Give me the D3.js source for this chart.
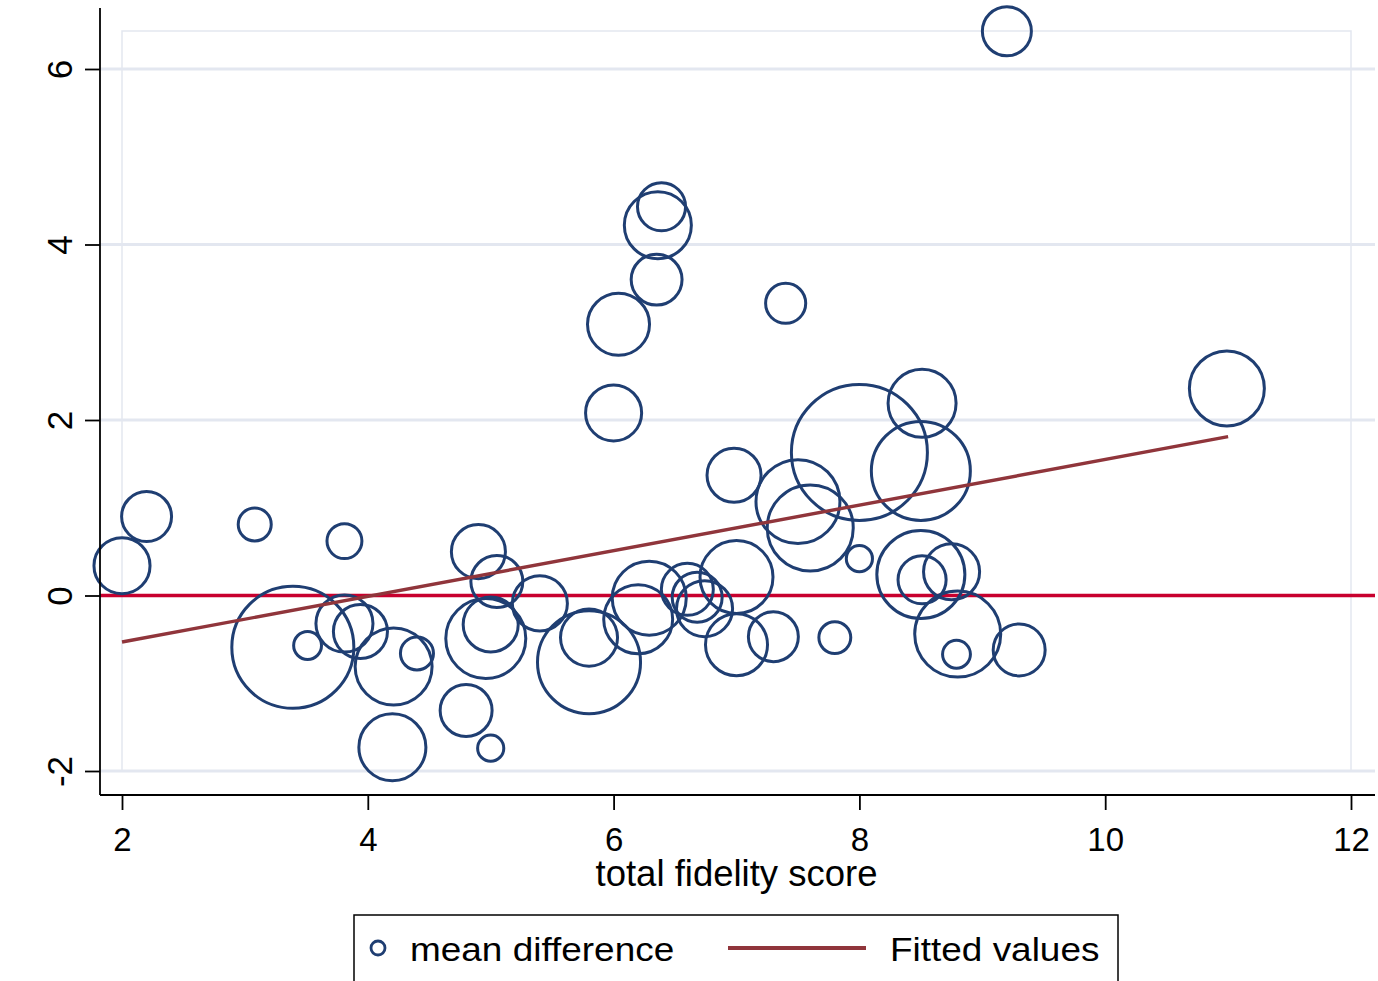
<!DOCTYPE html>
<html>
<head>
<meta charset="utf-8">
<script src="https://cdn.jsdelivr.net/npm/d3@7"></script>
<style>
  html, body { margin: 0; padding: 0; background: #fff; }
  svg { display: block; font-family: "Liberation Sans", Arial, sans-serif; }
</style>
</head>
<body>
<div id="chart"></div>
<script>
// bubble data: fidelity score, mean difference, weight
const fidelity = [2.00, 2.20, 3.08, 3.81, 3.39, 3.51, 3.81, 3.94, 4.21, 4.40,
                  4.20, 4.90, 5.05, 4.96, 5.00, 5.40, 4.80, 5.00, 5.80, 5.80,
                  6.20, 6.29, 6.60, 6.68, 6.74, 7.00, 7.00, 7.30, 7.80, 8.00,
                  7.60, 7.50, 8.00, 8.51, 8.50, 8.50, 8.51, 8.75, 8.80, 8.79,
                  9.30, 10.99, 9.20, 6.39, 6.36, 6.35, 6.04, 6.00, 7.40, 6.98]
const meanDiff = [0.34, 0.90, 0.81, 0.62, -0.59, -0.57, -0.32, -0.41, -0.81, -0.66,
                  -1.73, 0.50, 0.16, -0.49, -0.33, -0.09, -1.31, -1.74, -0.76, -0.48,
                  -0.27, -0.03, 0.07, -0.02, -0.15, 0.21, -0.56, -0.47, -0.48, 0.42,
                  0.77, 1.07, 1.63, 2.19, 1.42, 0.24, 0.18, 0.27, -0.44, -0.67,
                  -0.62, 2.36, 6.43, 4.43, 4.22, 3.60, 3.09, 2.08, 3.33, 1.37]
const weight = [17, 13.5, 5.9, 6.6, 80.5, 4.2, 17.6, 15.8, 32, 5.9,
                24.3, 15.8, 14.6, 34.6, 16.4, 16.4, 14.6, 3.7, 57.4, 17.6,
                25.7, 29.6, 14.6, 13.5, 17, 28.8, 20.8, 13.5, 5.5, 3.7,
                40, 38.1, 100, 25, 53, 41.9, 12.5, 17, 40, 4.2,
                14.6, 30.4, 13, 12.5, 24.3, 14, 20.8, 17, 8.7, 15.8]

// fitted values line endpoints
const fitX = [2, 11]
const fitY = [-0.53, 1.81]

const xTicks = [2, 4, 6, 8, 10, 12]
const yTicks = [-2, 0, 2, 4, 6]

const width = 1378, height = 981
const navy = "#1f3e72", maroon = "#90353b", zeroRed = "#c8002e", grid = "#e3e7f0"

const svg = d3.select("#chart").append("svg")
    .attr("width", width)
    .attr("height", height)

const x = d3.scaleLinear().domain([2, 12]).range([122, 1351])
const y = d3.scaleLinear().domain([-2, 6]).range([771, 69])
const r = d3.scaleSqrt().domain([0, 100]).range([0, 68])

const axisX = 100, axisY = 795, plotRight = 1375

// gridlines
svg.append("g").selectAll("line").data(yTicks).join("line")
    .attr("x1", axisX).attr("x2", plotRight)
    .attr("y1", d => y(d)).attr("y2", d => y(d))
    .attr("stroke", grid).attr("stroke-width", 3)

// inner plot frame
svg.append("rect")
    .attr("x", x(2)).attr("y", 31)
    .attr("width", x(12) - x(2)).attr("height", y(-2) - 31)
    .attr("fill", "none").attr("stroke", grid).attr("stroke-width", 1.5)

// zero reference line
svg.append("line")
    .attr("x1", axisX).attr("x2", plotRight)
    .attr("y1", y(0)).attr("y2", y(0))
    .attr("stroke", zeroRed).attr("stroke-width", 3.4)

// bubbles
const points = fidelity.map((f, i) => ({ f, d: meanDiff[i], w: weight[i] }))
svg.append("g").selectAll("circle").data(points).join("circle")
    .attr("cx", p => x(p.f))
    .attr("cy", p => y(p.d))
    .attr("r", p => r(p.w))
    .attr("fill", "none")
    .attr("stroke", navy)
    .attr("stroke-width", 3)

// fitted line
svg.append("line")
    .attr("x1", x(fitX[0])).attr("y1", y(fitY[0]))
    .attr("x2", x(fitX[1])).attr("y2", y(fitY[1]))
    .attr("stroke", maroon).attr("stroke-width", 3.4)

// axes
const yAxis = svg.append("g")
    .attr("transform", `translate(${axisX},0)`)
    .call(d3.axisLeft(y).tickValues(yTicks).tickSize(15).tickFormat(d3.format("d")))
yAxis.select(".domain").remove()
yAxis.selectAll("line").attr("stroke", "#000").attr("stroke-width", 1.8)
yAxis.selectAll("text")
    .attr("x", null).attr("dy", null)
    .attr("transform", "translate(-28,0) rotate(-90)")
    .attr("text-anchor", "middle")
    .attr("font-family", "Liberation Sans, Arial, sans-serif")
    .attr("font-size", 35)
    .attr("fill", "#000")
    .text(d => d < 0 ? "-" + Math.abs(d) : d)

const xAxis = svg.append("g")
    .attr("transform", `translate(0,${axisY})`)
    .call(d3.axisBottom(x).tickValues(xTicks).tickSize(15))
xAxis.select(".domain").remove()
xAxis.selectAll("line").attr("stroke", "#000").attr("stroke-width", 1.8)
xAxis.selectAll("text")
    .attr("y", 56).attr("dy", null)
    .attr("font-family", "Liberation Sans, Arial, sans-serif")
    .attr("font-size", 33)
    .attr("fill", "#000")

svg.append("line")
    .attr("x1", axisX).attr("x2", axisX).attr("y1", 8).attr("y2", axisY)
    .attr("stroke", "#000").attr("stroke-width", 1.8)
svg.append("line")
    .attr("x1", axisX).attr("x2", plotRight).attr("y1", axisY).attr("y2", axisY)
    .attr("stroke", "#000").attr("stroke-width", 1.8)

// axis title
svg.append("text")
    .attr("x", (x(2) + x(12)) / 2)
    .attr("y", 886)
    .attr("text-anchor", "middle")
    .attr("font-size", 36.5)
    .text("total fidelity score")

// legend
const legend = svg.append("g")
legend.append("rect")
    .attr("x", 354).attr("y", 915)
    .attr("width", 764).attr("height", 90)
    .attr("fill", "#fff").attr("stroke", "#000").attr("stroke-width", 1.5)
legend.append("circle")
    .attr("cx", 378).attr("cy", 948).attr("r", 7)
    .attr("fill", "none").attr("stroke", navy).attr("stroke-width", 2.8)
legend.append("text")
    .attr("transform", "translate(410,961) scale(1.12,1)")
    .attr("font-size", 33)
    .text("mean difference")
legend.append("line")
    .attr("x1", 728).attr("x2", 866).attr("y1", 948).attr("y2", 948)
    .attr("stroke", maroon).attr("stroke-width", 3.8)
legend.append("text")
    .attr("transform", "translate(890,961) scale(1.12,1)")
    .attr("font-size", 33)
    .text("Fitted values")
</script>
</body>
</html>
